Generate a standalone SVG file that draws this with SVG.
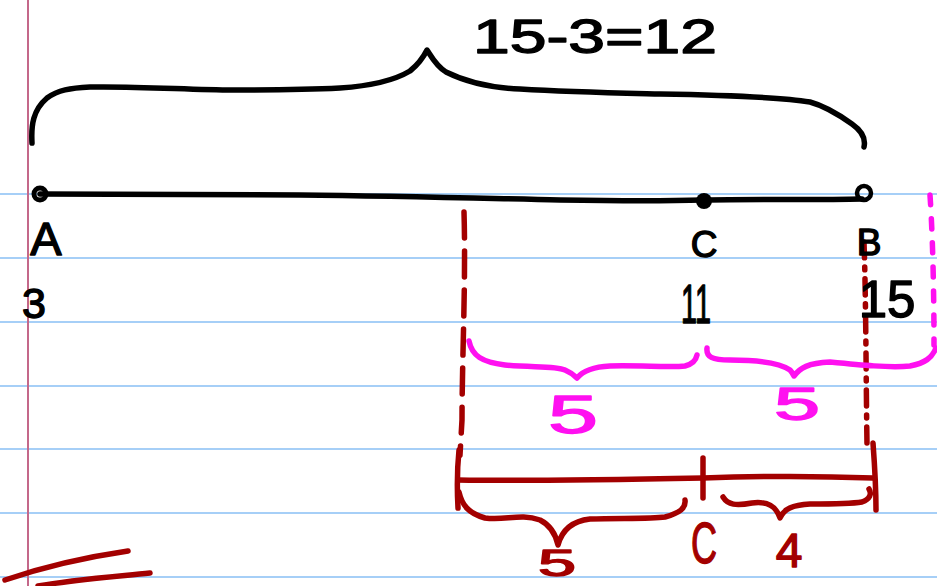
<svg xmlns="http://www.w3.org/2000/svg" width="937" height="586" viewBox="0 0 937 586">
<style>
.rule{stroke:#a6cff7;stroke-width:2}
.margin{stroke:#c4688a;stroke-width:2}
.ink{fill:none;stroke:#000;stroke-width:5.5;stroke-linecap:round;stroke-linejoin:round}
.red{fill:none;stroke:#a30000;stroke-width:5.5;stroke-linecap:round;stroke-linejoin:round}
.mag{fill:none;stroke:#ff10f0;stroke-width:5.5;stroke-linecap:round;stroke-linejoin:round}
.t{font-family:"Liberation Sans","DejaVu Sans",sans-serif;text-anchor:middle;stroke-width:1.4;stroke-linejoin:round}
.tk{fill:#000;stroke:#000}
.tr{fill:#a30000;stroke:#a30000}
.tm{fill:#ff10f0;stroke:#ff10f0}
</style>
<rect width="937" height="586" fill="#fff"/>
<g id="paper">
<line class="rule" x1="0" y1="194" x2="937" y2="194"/>
<line class="rule" x1="0" y1="258" x2="937" y2="258"/>
<line class="rule" x1="0" y1="322" x2="937" y2="322"/>
<line class="rule" x1="0" y1="386" x2="937" y2="386"/>
<line class="rule" x1="0" y1="449" x2="937" y2="449"/>
<line class="rule" x1="0" y1="513" x2="937" y2="513"/>
<line class="rule" x1="0" y1="577" x2="937" y2="577"/>
<line class="margin" x1="28" y1="0" x2="28" y2="586"/>
</g>
<g id="connectors">
<path id="top-brace" class="ink" d="M32,143 C31,125 33,110 47,98 C58,90 70,88 90,87 C140,86 190,90 233,90 C280,90 320,89 340,88 C370,86 395,80 410,71 C420,63 424,56 427,50 C431,56 436,66 446,72 C470,84 495,88 520,89 C570,92 620,93 660,94 C720,95 780,97 810,102 C825,106 838,114 852,124 C862,131 866,138 864,147"/>
<path id="number-line" class="ink" d="M40,194 C120,195 200,194 300,195 C400,196 470,198 560,200 C620,201 670,201 703,200 C760,199 820,200 862,199"/>
<path id="red-dash-left" class="red" stroke-dasharray="26 13" d="M464,212 C466,280 462,360 462,420 L460,455"/>
<path id="red-dash-right" class="red" stroke-dasharray="16 9 3 9" d="M864,242 C866,300 866,380 867,445"/>
<path id="mag-dots-right" class="mag" stroke-dasharray="10 14" d="M930,195 C933,240 934,300 934,345"/>
<path id="mag-brace-left" class="mag" d="M469,341 C472,356 482,362 505,365 C530,368 555,365 565,370 C572,373 575,376 577,378 C582,372 590,367 610,366 C640,365 670,368 685,366 C693,364 696,360 697,355"/>
<path id="mag-brace-right" class="mag" d="M707,348 C706,357 712,360 730,360 C760,360 780,363 790,370 C792,372 793,374 794,376 C800,368 808,363 830,362 C860,365 890,368 910,366 C925,363 932,358 936,348"/>
<path id="red-bar" class="red" d="M458,480 C520,481 600,480 703,478 C760,476 820,476 873,478"/>
<path id="red-tick-left" class="red" d="M459,450 C457,470 457,490 458,508"/>
<path id="red-tick-mid" class="red" d="M703,458 L703,498"/>
<path id="red-tick-right" class="red" d="M873,443 C875,470 876,490 876,510"/>
<path id="red-brace-left" class="red" d="M459,492 C462,505 468,513 485,518 C505,521 520,513 540,520 C552,526 556,536 558,545 C562,530 572,521 590,519 C620,518 650,519 665,517 C680,513 686,508 685,500"/>
<path id="red-brace-right" class="red" d="M723,497 C728,505 736,506 752,503 C768,501 776,506 780,518 C784,509 792,505 810,504 C830,504 850,504 862,502 C870,499 872,494 869,489"/>
<path id="red-slash-1" class="red" d="M5,580 C40,568 80,558 128,551"/>
<path id="red-slash-2" class="red" d="M38,586 C70,580 110,577 150,573"/>
</g>
<g id="point-A">
<circle cx="40" cy="194" r="6" fill="none" stroke="#000" stroke-width="5"/>
<text class="t tk" x="46" y="255" font-size="47">A</text>
<text class="t tk" x="34" y="318" font-size="43">3</text>
</g>
<g id="point-C">
<circle cx="704" cy="201" r="8" fill="#000"/>
<text class="t tk" x="704" y="257" font-size="37">C</text>
<text class="t tk" x="696" y="323" font-size="56" textLength="30" lengthAdjust="spacingAndGlyphs">11</text>
</g>
<g id="point-B">
<circle cx="864" cy="193" r="7" fill="none" stroke="#000" stroke-width="4.5"/>
<text class="t tk" x="869" y="255" font-size="37">B</text>
<text class="t tk" x="887" y="317" font-size="51">15</text>
</g>
<g id="equation">
<text class="t tk" x="595" y="53" font-size="48" textLength="244" lengthAdjust="spacingAndGlyphs">15-3=12</text>
</g>
<g id="magenta-labels">
<text class="t tm" x="573" y="433" font-size="53" textLength="50" lengthAdjust="spacingAndGlyphs">5</text>
<text class="t tm" x="797" y="420" font-size="46" textLength="46" lengthAdjust="spacingAndGlyphs">5</text>
</g>
<g id="red-labels">
<text class="t tr" x="704" y="563" font-size="57" textLength="26" lengthAdjust="spacingAndGlyphs">C</text>
<text class="t tr" x="789" y="567" font-size="48">4</text>
<text class="t tr" x="557" y="576" font-size="37" textLength="38" lengthAdjust="spacingAndGlyphs">5</text>
</g>
</svg>
